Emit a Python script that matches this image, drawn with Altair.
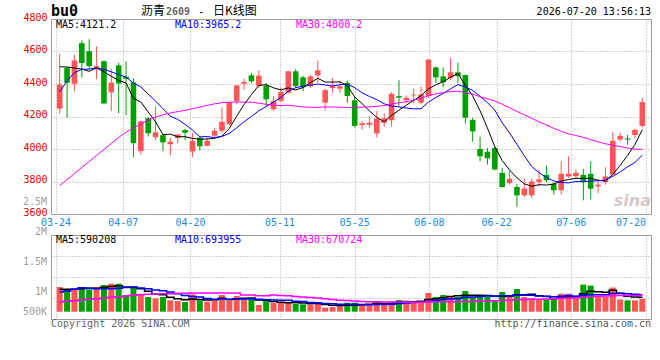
import altair as alt
import numpy as np
import pandas as pd

# ---------------- data ----------------
opens = [4248, 4500, 4401, 4651, 4602, 4490, 4540, 4348, 4515, 4445,
         4410, 3987, 4190, 4073, 4085, 4030, 4068, 4117, 3985, 4070,
         4020, 4082, 4112, 4153, 4295, 4402, 4453, 4388, 4390, 4244,
         4296, 4346, 4478, 4441, 4386, 4453, 4285, 4375, 4371, 4407,
         4300, 4147, 4149, 4096, 4162, 4177, 4325, 4300, 4330, 4285,
         4325, 4502, 4447, 4437, 4472, 4455, 4179, 4000, 3983, 4006,
         3853, 3790, 3766, 3715, 3715, 3797, 3841, 3786, 3746, 3831,
         3833, 3841, 3847, 3770, 3796, 3843, 4058, 4065, 4086, 4142]
highs = [4586, 4502, 4580, 4668, 4675, 4632, 4545, 4492, 4530, 4540,
         4435, 4175, 4195, 4260, 4092, 4070, 4092, 4125, 4100, 4075,
         4070, 4130, 4255, 4290, 4395, 4432, 4468, 4484, 4407, 4326,
         4380, 4480, 4492, 4451, 4457, 4545, 4370, 4437, 4421, 4421,
         4320, 4172, 4203, 4234, 4220, 4350, 4423, 4331, 4370, 4386,
         4555, 4508, 4502, 4560, 4530, 4458, 4193, 4075, 4006, 4016,
         3884, 3868, 3786, 3817, 3817, 3868, 3898, 3796, 3925, 3954,
         3874, 3878, 3925, 3817, 3888, 4105, 4101, 4087, 4126, 4316]
lows = [4217, 4193, 4355, 4440, 4490, 4430, 4278, 4233, 4218, 4208,
        3950, 3967, 4077, 4055, 3987, 3962, 4035, 4055, 3950, 3990,
        4015, 4075, 4101, 4143, 4275, 4362, 4405, 4376, 4265, 4234,
        4290, 4342, 4376, 4356, 4376, 4407, 4238, 4346, 4346, 4285,
        4132, 4118, 4132, 4071, 4138, 4138, 4265, 4281, 4281, 4275,
        4315, 4407, 4380, 4423, 4407, 4156, 4045, 3924, 3904, 3868,
        3762, 3782, 3644, 3705, 3699, 3770, 3796, 3719, 3721, 3823,
        3817, 3684, 3690, 3729, 3780, 3841, 4046, 4026, 4065, 4132]
closes = [4397, 4408, 4545, 4529, 4510, 4510, 4280, 4408, 4403, 4432,
          4036, 4170, 4097, 4103, 4041, 4045, 4090, 4100, 4050, 4017,
          4050, 4112, 4167, 4285, 4391, 4413, 4417, 4451, 4306, 4295,
          4350, 4478, 4387, 4380, 4447, 4484, 4362, 4386, 4386, 4326,
          4142, 4158, 4162, 4187, 4189, 4340, 4316, 4315, 4335, 4335,
          4549, 4441, 4411, 4472, 4448, 4193, 4108, 3955, 3943, 3874,
          3766, 3817, 3715, 3756, 3800, 3813, 3807, 3746, 3847, 3847,
          3853, 3800, 3756, 3780, 3831, 4050, 4081, 4058, 4118, 4289]
volumes = [1011000, 916000, 957000, 1011000, 916000, 1011000, 1093000, 1148000, 1148000, 683000,
           1011000, 738000, 601000, 547000, 601000, 465000, 437000, 396000, 711000, 465000,
           410000, 465000, 683000, 465000, 642000, 506000, 506000, 273000, 437000, 369000,
           369000, 396000, 328000, 301000, 301000, 369000, 164000, 191000, 232000, 369000,
           369000, 273000, 273000, 437000, 328000, 396000, 478000, 437000, 396000, 437000,
           765000, 601000, 683000, 642000, 601000, 847000, 601000, 683000, 601000, 437000,
           806000, 683000, 929000, 601000, 547000, 506000, 506000, 547000, 738000, 738000,
           560000, 1110000, 1070000, 610000, 610000, 990000, 500000, 465000, 465000, 531000]

# moving-average values before a full window exists
ma5_head = [4506, 4505, 4498, 4492]
ma10_head = [4350, 4420, 4470, 4490, 4492, 4498, 4490, 4475, 4458]
ma30_head = [3775, 3812, 3849, 3886, 3923, 3960, 3997, 4034, 4071, 4103,
             4129, 4155, 4178, 4196, 4210, 4222, 4230, 4238, 4248, 4258,
             4268, 4278, 4285, 4288, 4289, 4289, 4288, 4282, 4275]
vma5_head = [915000, 915000, 925000, 940000]
vma10_head = [806000, 847000, 916000, 984000, 957000, 943000, 943000, 943000, 957000]
vma30_head = [396000, 424000, 451000, 478000, 506000, 533000, 560000, 588000, 615000, 642000,
              670000, 697000, 711000, 724000, 738000, 738000, 752000, 752000, 765000, 765000,
              765000, 765000, 765000, 765000, 765000, 683000, 683000, 656000, 656000]

x_labels = ["03-24", "04-07", "04-20", "05-11", "05-25", "06-08", "06-22", "07-06", "07-20"]
x_label_idx = [0, 9, 18, 30, 40, 50, 59, 69, 79]
price_ticks = [3600, 3800, 4000, 4200, 4400, 4600, 4800]
vol_tick_labels = ["2.5M", "2M", "1.5M", "1M", "500K"]
ma_names = ["MA5", "MA10", "MA30"]

symbol = "bu0"
title_name = "沥青"
title_code = "2609"
title_kind = "日K线图"
timestamp = "2026-07-20 13:56:13"
price_legend = ["MA5:4121.2", "MA10:3965.2", "MA30:4000.2"]
vol_legend = ["MA5:590208", "MA10:693955", "MA30:670724"]
copyright_text = "Copyright 2026 SINA.COM"
url_text = "http://finance.sina.com.cn"

# ---------------- styling / layout ----------------
W, H_PRICE, H_VOL, GAP = 600, 195, 84, 21
RED, GREEN = "#ff5555", "#00a000"
MA_COLORS = ["#000000", "#0000ff", "#ff00ff"]
MONO = "DejaVu Sans Mono"
CJK = "Noto Sans CJK SC"
GRID = "#a8a8a8"
XLAB = "#1a8ae0"
VOL_DOMAIN = [-300000, 3145000]
vol_label_y = [-33, -3, 27, 57, 77]          # pixel offsets of Sina's volume labels
legend_x = [5, 124, 245]

n = len(closes)
df = pd.DataFrame({"i": range(n), "open": opens, "high": highs, "low": lows,
                   "close": closes, "vol": volumes})
df["x"] = df["i"] + 0.5
df["dir"] = np.where(df["close"] >= df["open"], "up", "down")
df["body_lo"] = df[["open", "close"]].min(axis=1)
df["body_hi"] = df[["open", "close"]].max(axis=1)


def moving(values, window, head):
    s = pd.Series(values, dtype=float).rolling(window).mean()
    s.iloc[:len(head)] = head
    return s.round(1)


ma_df = pd.DataFrame({"x": df["x"],
                      "MA5": moving(closes, 5, ma5_head),
                      "MA10": moving(closes, 10, ma10_head),
                      "MA30": moving(closes, 30, ma30_head)})
vma_df = pd.DataFrame({"x": df["x"],
                       "MA5": moving(volumes, 5, vma5_head),
                       "MA10": moving(volumes, 10, vma10_head),
                       "MA30": moving(volumes, 30, vma30_head)})

grid_x = [i * n / (n - 1) for i in x_label_idx]
lab_df = pd.DataFrame({"x": grid_x, "label": x_labels})

xscale = alt.Scale(domain=[0, n], nice=False, zero=False)
xaxis = alt.Axis(values=grid_x, grid=True, gridColor=GRID, gridDash=[1, 2], labels=False,
                 ticks=False, domain=False, title=None)
X = alt.X("x:Q", scale=xscale, axis=xaxis)

price_scale = alt.Scale(domain=[price_ticks[0], price_ticks[-1]], nice=False, zero=False)
price_axis = alt.Axis(values=price_ticks, grid=True, gridColor=GRID, gridDash=[1, 2], ticks=False,
                      domain=False, labelColor="#e60000", labelFont=MONO, labelFontSize=10,
                      labelPadding=4, labelBaseline="alphabetic", labelOffset=1, labelFlush=False,
                      labelOverlap=False, format="d", minExtent=50, maxExtent=50, title=None)
vol_scale = alt.Scale(domain=VOL_DOMAIN, nice=False, zero=False)
span = VOL_DOMAIN[1] - VOL_DOMAIN[0]
vol_grid = [VOL_DOMAIN[0] + span * k / 4 for k in (1, 2, 3)]
vol_axis = alt.Axis(values=vol_grid, grid=True, gridColor=GRID, gridDash=[1, 2], labels=False,
                    ticks=False, domain=False, minExtent=50, maxExtent=50, title=None)

dir_color = alt.Color("dir:N", scale=alt.Scale(domain=["up", "down"], range=[RED, GREEN]), legend=None)


def txt(s, x, y, **kw):
    style = dict(font=MONO, fontSize=10, align="left", baseline="middle", color="#000000")
    style.update(kw)
    return alt.Chart(pd.DataFrame({"t": [s]})).mark_text(**style).encode(
        x=alt.value(x), y=alt.value(y), text="t:N")


def ma_layers(frame, yscale, yaxis, **mark):
    out = []
    for name, c in zip(ma_names, MA_COLORS):
        out.append(alt.Chart(frame).mark_line(color=c, **mark).encode(
            x=X, y=alt.Y(f"{name}:Q", scale=yscale, axis=yaxis)))
    return out


# ---------------- price panel ----------------
watermark = txt("sina", W, 187, align="right", baseline="alphabetic", font="DejaVu Sans",
                fontSize=16, fontStyle="italic", fontWeight="bold", color="#d8c8c8")
wicks = alt.Chart(df).mark_rule(strokeWidth=1).encode(
    x=X, y=alt.Y("low:Q", scale=price_scale, axis=price_axis), y2="high:Q", color=dir_color)
bodies = alt.Chart(df).mark_bar(size=5.6).encode(
    x=X, y=alt.Y("body_lo:Q", scale=price_scale, axis=price_axis), y2="body_hi:Q", color=dir_color)
ma_lines = ma_layers(ma_df, price_scale, price_axis, strokeWidth=1)

price_texts = [txt(s, lx, 6, color=c) for s, lx, c in zip(price_legend, legend_x, MA_COLORS)]
header = [
    txt(symbol, 0, -3, baseline="alphabetic", fontSize=15, fontWeight="bold"),
    txt(title_name, 90, -4, baseline="alphabetic", font=CJK, fontSize=12),
    txt(title_code, 115, -4, baseline="alphabetic", fontSize=10, color="#666666", fontWeight="bold"),
    txt("-", 147, -4, baseline="alphabetic", fontSize=11),
    txt(title_kind, 162, -4, baseline="alphabetic", font=CJK, fontSize=12),
    txt(timestamp, W, -7, align="right"),
]
xlab_mid = alt.Chart(lab_df.iloc[:-1]).mark_text(font=MONO, fontSize=10, color=XLAB, align="center",
                                                 baseline="middle").encode(
    x=X, y=alt.value(H_PRICE + 9), text="label:N")
xlab_end = alt.Chart(lab_df.iloc[-1:]).mark_text(font=MONO, fontSize=10, color=XLAB, align="right",
                                                 baseline="middle").encode(
    x=X, y=alt.value(H_PRICE + 9), text="label:N")

price = alt.layer(watermark, wicks, bodies, *ma_lines, *price_texts, *header, xlab_mid, xlab_end).properties(
    width=W, height=H_PRICE)

# ---------------- volume panel ----------------
vbars = alt.Chart(df).mark_bar(size=6).encode(
    x=X, y=alt.Y("vol:Q", scale=vol_scale, axis=vol_axis), color=dir_color)
vma_lines = ma_layers(vma_df, vol_scale, vol_axis, strokeWidth=1.5, interpolate="step")
vol_texts = [txt(s, lx, 4.5, color=c) for s, lx, c in zip(vol_legend, legend_x, MA_COLORS)]
vol_labels = [txt(s, -4, yy, align="right", color="#a0a0a0") for s, yy in zip(vol_tick_labels, vol_label_y)]
footer = [txt(copyright_text, 0, H_VOL + 5, color="#666666"),
          txt(url_text, W, H_VOL + 5, align="right", color="#555555")]

volume = alt.layer(vbars, *vma_lines, *vol_texts, *vol_labels, *footer).properties(width=W, height=H_VOL)

chart = alt.vconcat(price, volume, spacing=GAP, bounds="flush").properties(
    padding={"left": 0, "top": 3, "right": 0, "bottom": 0}, background="white"
).configure_view(stroke="#999999", strokeWidth=1)

chart.save("out.html", embed_options={"renderer": "svg", "actions": False})
